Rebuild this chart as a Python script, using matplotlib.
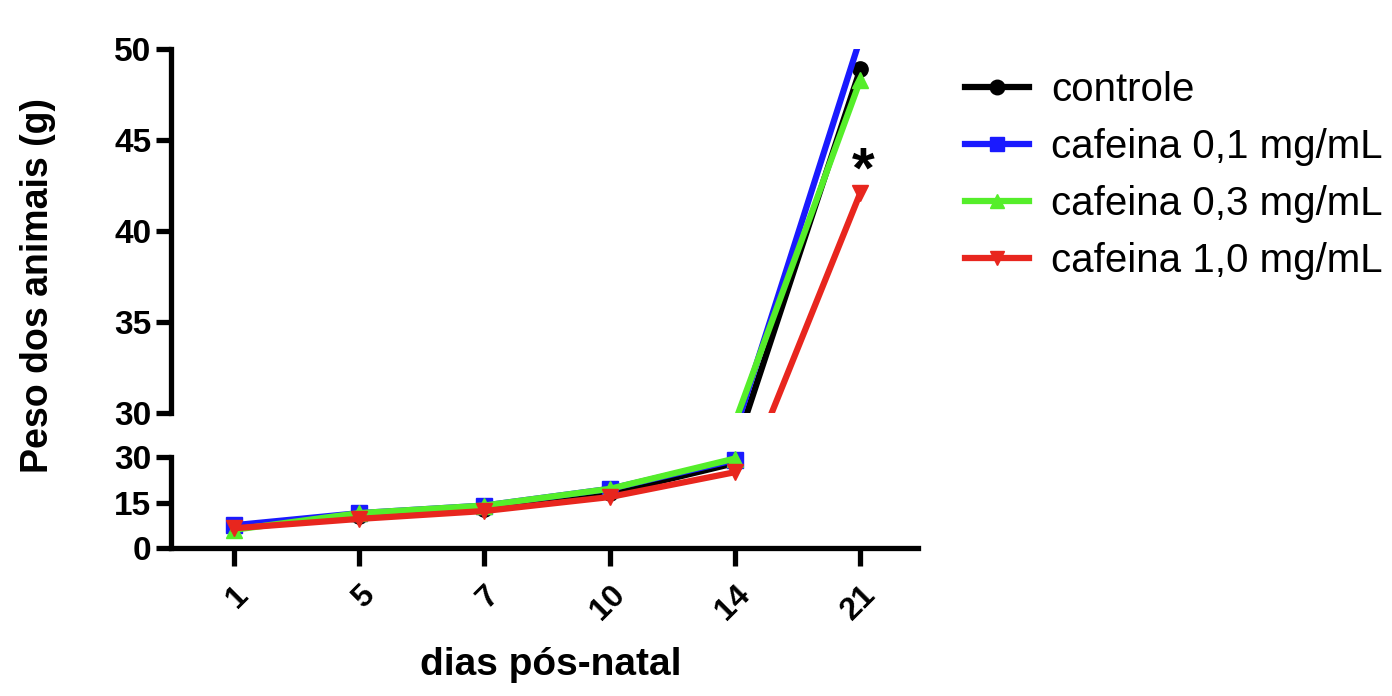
import numpy as np
import matplotlib.pyplot as plt

plt.rcParams['font.family'] = ['Liberation Sans', 'DejaVu Sans']

# data
days = ["1", "5", "7", "10", "14", "21"]
controle = [7.0, 10.5, 13.0, 18.0, 28.0, 48.9]
caf_01 = [7.5, 11.5, 14.0, 19.5, 29.0, 50.6]
caf_03 = [6.0, 11.5, 14.0, 19.5, 29.5, 48.3]
caf_10 = [6.5, 9.6, 12.2, 16.8, 25.0, 42.1]

series = [
    ("controle", controle, "black", "o"),
    ("cafeina 0,1 mg/mL", caf_01, "#1a1aff", "s"),
    ("cafeina 0,3 mg/mL", caf_03, "#55ee2a", "^"),
    ("cafeina 1,0 mg/mL", caf_10, "#e8261e", "v"),
]

fig = plt.figure(figsize=(13.92, 6.96), dpi=100)
left, right = 0.1228, 0.6595
ax_top = fig.add_axes([left, 0.4066, right - left, 0.9296 - 0.4066])
ax_bot = fig.add_axes([left, 0.2126, right - left, 0.3434 - 0.2126])

x = np.arange(len(days))
for name, vals, col, mk in series:
    ax_top.plot(x, vals, color=col, marker=mk, lw=4.5, ms=11, label=name)
    # lower segment only goes up to day 14
    ax_bot.plot(x[:5], vals[:5], color=col, marker=mk, lw=4.5, ms=11, clip_on=False)

ax_top.set_ylim(30, 50)
ax_bot.set_ylim(0, 30)
for ax in (ax_top, ax_bot):
    ax.set_xlim(-0.5, 5.46)
    ax.spines['top'].set_visible(False)
    ax.spines['right'].set_visible(False)
    ax.spines['left'].set_linewidth(3.8)
    ax.spines['bottom'].set_linewidth(3.8)
    ax.tick_params(axis='y', length=11, width=3.8, labelsize=24, pad=3)

ax_top.spines['bottom'].set_visible(False)
ax_top.set_xticks([])
ax_top.set_yticks([30, 35, 40, 45, 50])
ax_top.set_yticklabels([30, 35, 40, 45, 50], fontweight='bold')

ax_bot.set_yticks([0, 15, 30])
ax_bot.set_yticklabels([0, 15, 30], fontweight='bold')
ax_bot.set_xticks(x)
ax_bot.set_xticklabels(days, rotation=45, ha='right', rotation_mode='anchor',
                       fontsize=23, fontweight='bold')
ax_bot.tick_params(axis='x', length=13, width=3.8, pad=10)

ax_top.text(5.02, 43.2, "*", fontsize=42, fontweight='bold', ha='center', va='center')

fig.text(0.027, 0.59, "Peso dos animais (g)", rotation=90, fontsize=27,
         fontweight='bold', ha='center', va='center')
fig.text(0.396, 0.045, "dias pós-natal", fontsize=28, fontweight='bold',
         ha='center', va='center')

handles, labels = ax_top.get_legend_handles_labels()
fig.legend(handles, labels, loc='upper left', bbox_to_anchor=(0.693, 0.898),
           frameon=False, fontsize=29, handlelength=1.6, labelspacing=0.47,
           markerscale=0.95, handletextpad=0.55, borderpad=0, borderaxespad=0)

fig.savefig("out.png", dpi=100)
